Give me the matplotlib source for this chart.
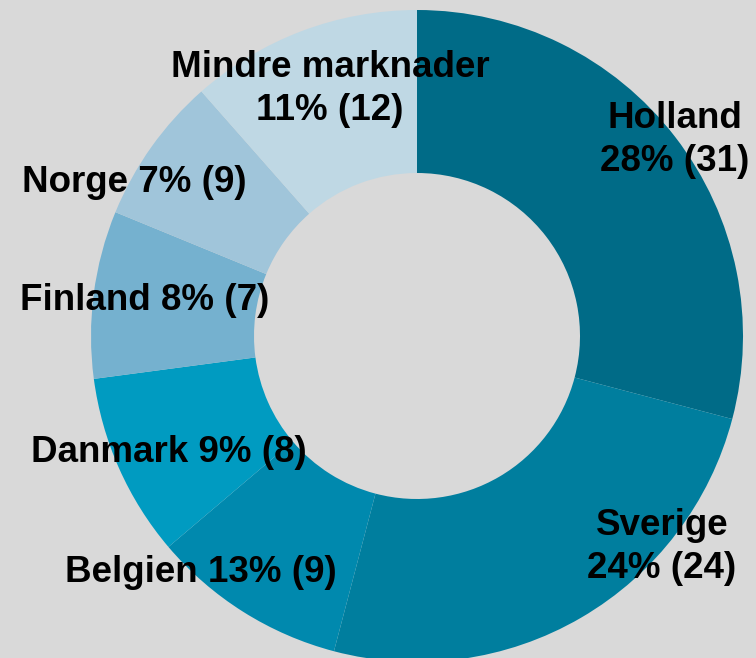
import matplotlib
matplotlib.use("Agg")
import matplotlib.pyplot as plt

markets = ["Holland", "Sverige", "Belgien", "Danmark", "Finland", "Norge", "Mindre marknader"]
shares = [29.1, 25.0, 9.7, 9.1, 8.3, 7.3, 11.5]
label_pct = ["28%", "24%", "13%", "9%", "8%", "7%", "11%"]
label_count = [31, 24, 9, 8, 7, 9, 12]

colors = ["#006b87", "#007e9e", "#0089ae", "#009bc1", "#75b1cf", "#a0c5da", "#bfd8e4"]
bg = "#d9d9d9"

W, H = 756, 658
fig = plt.figure(figsize=(W / 100, H / 100), dpi=100, facecolor=bg)
ax = fig.add_axes([0, 0, 1, 1])
ax.set_facecolor(bg)

cx, cy, r = 417, H - 336, 326
wedges, _ = ax.pie(
    shares,
    colors=colors,
    startangle=90,
    counterclock=False,
    center=(cx, cy),
    radius=r,
    frame=True,
    wedgeprops=dict(width=r - 163, linewidth=0),
)
ax.set_xlim(0, W)
ax.set_ylim(0, H)
ax.set_aspect("equal")
ax.axis("off")

# label text; two-line labels for the larger slices
texts = []
for i, name in enumerate(markets):
    sep = "\n" if i in (0, 1, 6) else " "
    texts.append(f"{name}{sep}{label_pct[i]} ({label_count[i]})")

# label centres in pixel coordinates (from top-left)
label_xy = [(675, 140), (662, 547), (201, 573), (169, 453), (145, 300), (134, 183), (330, 89)]

for txt, (x, y) in zip(texts, label_xy):
    ax.text(x, H - y, txt, ha="center", va="center", multialignment="center",
            fontsize=26.5, fontweight="bold", family="Liberation Sans",
            color="black", linespacing=1.3)

fig.savefig("out.png", dpi=100, facecolor=bg)
